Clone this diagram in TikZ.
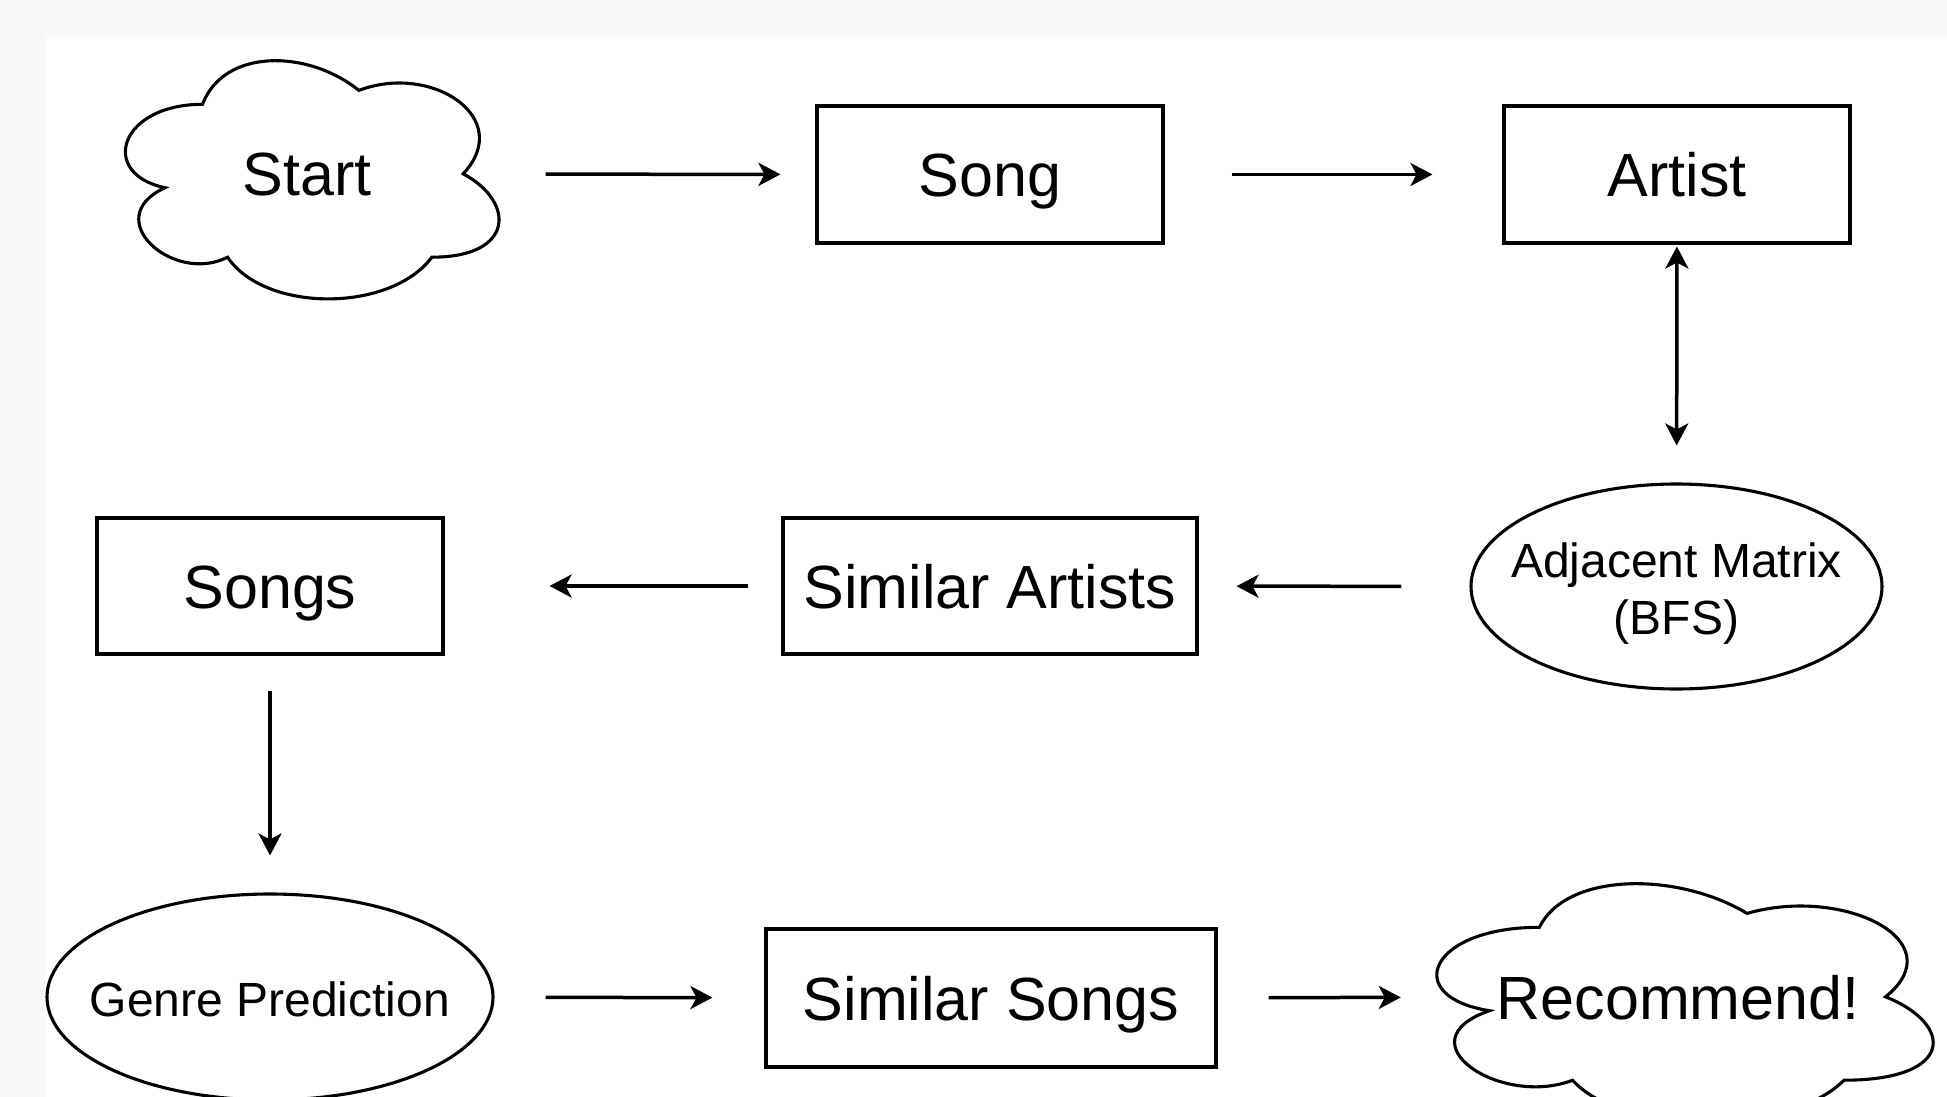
\documentclass[tikz,border=0pt]{standalone}
\usepackage{fontspec}
\setmainfont{Liberation Sans}
\usetikzlibrary{arrows.meta,shapes.geometric}
\definecolor{bggray}{RGB}{249,249,249}
\newcommand{\bigfont}{\fontsize{61}{73}\selectfont}
\newcommand{\smallfont}{\fontsize{48}{57}\selectfont}
\tikzset{
  shapeline/.style={draw=black, line width=3.1pt},
  boxnode/.style={shapeline, rectangle, inner sep=0pt, minimum width=346pt, minimum height=137pt, font=\bigfont, text height=44pt, text depth=0pt},
  ovalnode/.style={shapeline, ellipse, inner xsep=-60pt, inner ysep=0pt, font=\smallfont, align=center},
  cloudnode/.style={rectangle, inner sep=0pt, font=\bigfont, text height=44pt, text depth=0pt},
  tipA/.tip={Stealth[length=22pt,width=23pt,inset=6pt]},
  arr/.style={line width=3.5pt, -tipA},
  arrboth/.style={line width=3.5pt, tipA-tipA},
}
\newcommand{\drawioCloud}[3]{%
  \begin{scope}[shift={(#1.north west)}, x=#2pt, y=-#3pt]
    \draw[shapeline] (0.25,0.25) .. controls (0.05,0.25) and (0,0.5) .. (0.16,0.55)
      .. controls (0,0.66) and (0.18,0.9) .. (0.31,0.8)
      .. controls (0.4,1) and (0.7,1) .. (0.8,0.8)
      .. controls (1,0.8) and (1,0.6) .. (0.875,0.5)
      .. controls (1,0.3) and (0.8,0.1) .. (0.625,0.2)
      .. controls (0.5,0.05) and (0.3,0.05) .. (0.25,0.25) -- cycle;
  \end{scope}}
\begin{document}
\begin{tikzpicture}[x=1pt,y=-1pt]
  \useasboundingbox (0,0) rectangle (1947,1097);
  \clip (0,0) rectangle (1947,1097);
  \fill[bggray] (0,0) rectangle (1947,1097);
  \fill[white] (45,37) rectangle (1947,1097);

  % row 1
  \node[cloudnode, minimum width=417pt, minimum height=278pt] (start) at (307,174) {Start};
  \drawioCloud{start}{417}{278}
  \node[boxnode] (song) at (990,174.5) {Song};
  \node[boxnode] (artist) at (1677,174.5) {Artist};

  % row 2
  \node[ovalnode, minimum width=411pt, minimum height=205pt, text height=95pt, text depth=0pt] (adj) at (1676.5,586.5) {Adjacent Matrix\\(BFS)};
  \node[boxnode, minimum width=414pt, minimum height=136pt] (simart) at (990,586) {Similar Artists};
  \node[boxnode, minimum height=136pt] (songs) at (270,586) {Songs};

  % row 3
  \node[ovalnode, minimum width=446pt, minimum height=206pt, text height=39pt, text depth=0pt] (genre) at (270,997) {Genre Prediction};
  \node[boxnode, minimum width=450pt, minimum height=138pt] (simsongs) at (991,998) {Similar Songs};
  \node[cloudnode, minimum width=554pt, minimum height=278pt] (rec) at (1678,997) {Recommend!};
  \drawioCloud{rec}{554}{278}

  % connectors
  \draw[arr, shorten <=30pt, shorten >=35pt] (start) -- (song);
  \draw[arr, shorten <=67pt, shorten >=70pt] (song) -- (artist);
  \draw[arrboth, shorten <=2pt, shorten >=37pt] (artist) -- (adj);
  \draw[arr, shorten <=68pt, shorten >=38pt] (adj) -- (simart);
  \draw[arr, shorten <=33pt, shorten >=105pt] (simart) -- (songs);
  \draw[arr, shorten <=35pt, shorten >=37pt] (songs) -- (genre);
  \draw[arr, shorten <=51pt, shorten >=52pt] (genre) -- (simsongs);
  \draw[arr, shorten <=51pt, shorten >=0pt] (simsongs) -- (rec);
\end{tikzpicture}
\end{document}
